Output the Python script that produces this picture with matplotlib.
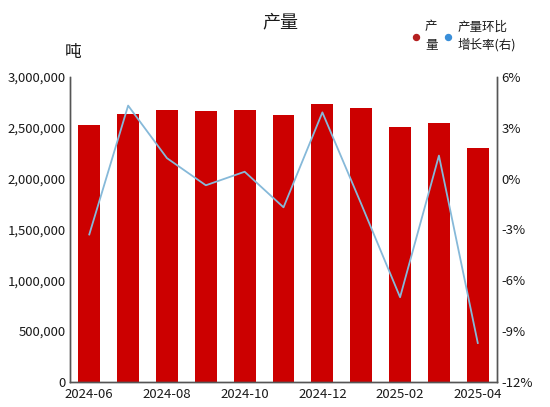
import matplotlib
matplotlib.use("Agg")
import matplotlib.pyplot as plt
from matplotlib.ticker import FuncFormatter, FixedLocator
from matplotlib.lines import Line2D

plt.rcParams['font.family'] = ['Noto Sans CJK SC', 'DejaVu Sans']

months = ["2024-06", "2024-07", "2024-08", "2024-09", "2024-10", "2024-11",
          "2024-12", "2025-01", "2025-02", "2025-03", "2025-04"]
production = [2526000, 2635000, 2674000, 2664000, 2674000, 2625000,
              2734000, 2694000, 2507000, 2546000, 2299000]
mom_growth = [-3.3, 4.3, 1.2, -0.4, 0.4, -1.7, 3.9, -1.5, -7.0, 1.35, -9.7]

left_ticks = [0, 500000, 1000000, 1500000, 2000000, 2500000, 3000000]
right_ticks = [-12, -9, -6, -3, 0, 3, 6]

bar_color = "#cc0000"
line_color = "#86b9d9"
spine_color = "#555555"
text_color = "#1a1a1a"

fig = plt.figure(figsize=(5.5, 4.07), dpi=100)
ax = fig.add_axes([0.127, 0.0614, 0.777, 0.750])
x = list(range(len(months)))
ax.bar(x, production, width=0.56, color=bar_color, zorder=2)
ax.set_xlim(-0.5, len(months) - 0.5)
ax.set_ylim(0, 3000000)
ax.yaxis.set_major_locator(FixedLocator(left_ticks))
ax.yaxis.set_major_formatter(FuncFormatter(lambda v, p: f"{int(v):,}"))
ax.set_xticks(x[::2])
ax.set_xticklabels(months[::2])

ax2 = ax.twinx()
ax2.plot(x, mom_growth, color=line_color, lw=1.3, zorder=3)
ax2.set_ylim(-12, 6)
ax2.yaxis.set_major_locator(FixedLocator(right_ticks))
ax2.yaxis.set_major_formatter(FuncFormatter(lambda v, p: f"{int(v)}%"))

for a in (ax, ax2):
    a.spines['top'].set_visible(False)
    for s in ('left', 'right', 'bottom'):
        a.spines[s].set_color(spine_color)
        a.spines[s].set_linewidth(1.0)
    a.tick_params(axis='both', length=0, labelsize=9.5, colors=text_color, pad=3)
ax.tick_params(axis='x', pad=4)

fig.text(0.509, 0.945, "产量", ha='center', va='center', fontsize=13, color=text_color)
fig.text(0.133, 0.872, "吨", ha='center', va='center', fontsize=12, color=text_color)

# legend
fig.add_artist(Line2D([416 / 550], [1 - 37 / 407], marker='o', markersize=4.3,
                      color='#b52020', linestyle='none', transform=fig.transFigure))
fig.text(425 / 550, 1 - 36 / 407, "产\n量", ha='left', va='center', fontsize=9,
         color=text_color, linespacing=1.6)
fig.add_artist(Line2D([448 / 550], [1 - 37 / 407], marker='o', markersize=4.3,
                      color='#3a8fd9', linestyle='none', transform=fig.transFigure))
fig.text(458 / 550, 1 - 36 / 407, "产量环比\n增长率(右)", ha='left', va='center', fontsize=9,
         color=text_color, linespacing=1.45)

fig.savefig("out.png", dpi=100)
